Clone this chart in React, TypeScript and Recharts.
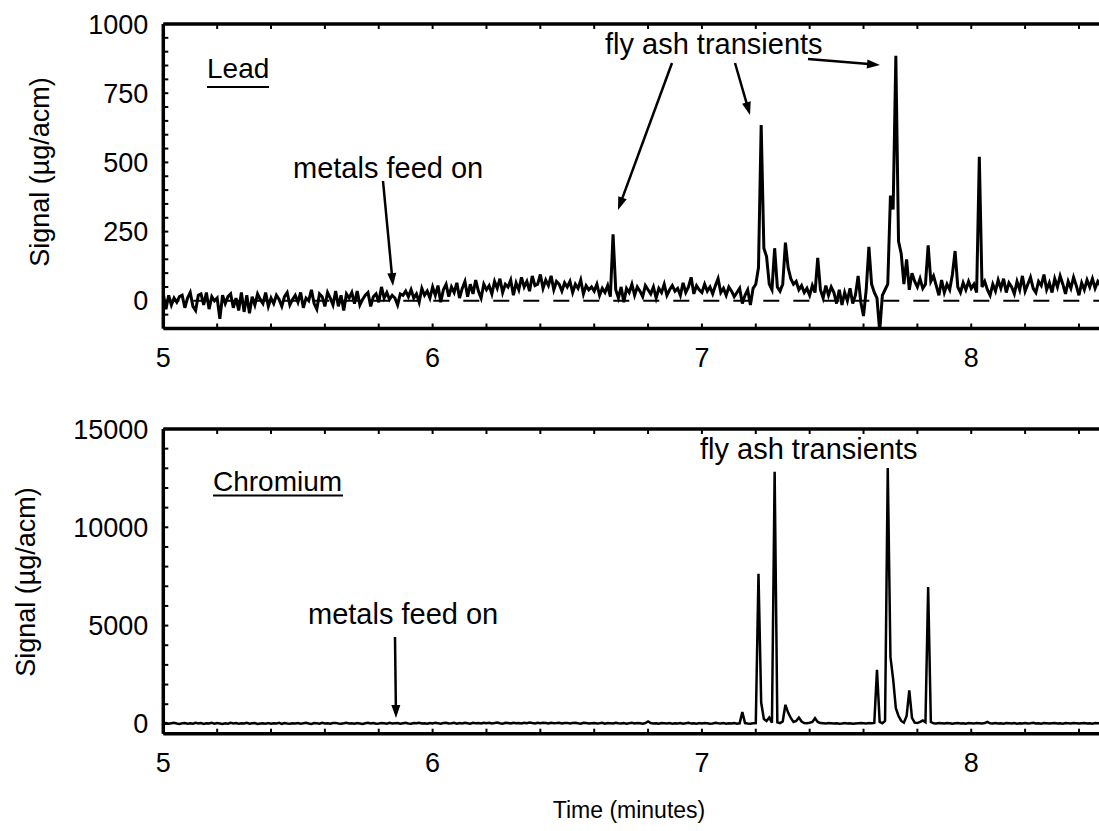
import React from "react";
import { LineChart, Line, XAxis, YAxis, ReferenceLine } from "recharts";

const FONT = '"Liberation Sans", Arial, Helvetica, sans-serif';

// both traces: one reading every 0.01 min, starting at 5.00 min
const SAMPLE_START = 5;
const SAMPLE_STEP = 0.01;

// Lead signal (µg/acm), rows of 0.1 min
const leadSignal = [
  25, -30, 20, -15, 10, -5, 15, 20, -25, 10,
  30, -20, -35, 20, 25, -15, 30, -30, 15, 0,
  10, -65, 20, -10, 15, 25, -25, 10, -35, 30,
  -40, 20, -45, 15, -15, 25, 5, -10, 30, -20,
  10, -10, 20, 5, -20, 15, 30, -15, 5, 20,
  -5, 30, -25, 10, 0, 40, -10, -30, 25, 15,
  -20, 30, 10, -15, 35, -20, 20, -35, 25, 10,
  30, -10, 35, -15, 5, 20, 30, -20, 15, 25,
  -5, 50, 10, 30, 5, 20, 10, -15, 25, 20,
  35, 15, 40, 10, 25, -5, 45, 20, 35, 10,
  50, 20, 55, -5, 40, 60, 15, 50, 30, 65,
  10, 45, 70, 15, 60, 25, 75, 35, 10, 60,
  40, 55, 25, 70, 45, 80, 30, 60, 50, 75,
  20, 65, 40, 85, 50, 70, 35, 90, 55, 60,
  95, 45, 75, 55, 90, 40, 70, 60, 35, 65,
  50, 70, 30, 60, 45, 75, 25, 55, 40, 50,
  35, 60, 20, 45, 30, 55, 15, 240, 40, 10,
  50, -5, 45, 30, 60, 20, 50, 35, 15, 55,
  40, 25, 50, 10, 45, 30, 60, 20, 40, 55,
  35, 45, 20, 65, 30, 50, 85, 25, 55, 40,
  30, 60, 35, 50, 25, 55, 80, 30, 45, 20,
  50, 35, 15, 30, 45, -10, 20, 40, -15, 45,
  60, 120, 635, 190, 160, 60, 40, 190, 50, 35,
  60, 210, 120, 80, 60, 70, 40, 55, 30, 45,
  20, 55, 30, 155, 40, 10, 55, 20, 50, 30,
  -10, 40, -15, 30, 0, 45, -10, 20, 90, -5,
  -55, 40, 195, 60, 30, 10, -110, 20, 40, 60,
  380, 330, 885, 215, 170, 60, 150, 40, 100, 70,
  50, 80, 45, 60, 200, 70, 90, 55, 20, 75,
  30, 60, 40, 95, 180, 50, 30, 65, 40, 70,
  45, 60, 30, 520, 50, 70, 40, 20, 60, 35,
  75, 45, 80, 30, 65, 50, 25, 70, 40, 90,
  35, 60, 85, 45, 30, 70, 55, 95, 40, 65,
  30, 80, 50, 90, 60, 25, 70, 45, 85, 55,
  20, 65, 40, 75, 50, 80, 45, 70, 55, 65,
  60,
];

// Chromium signal (µg/acm), rows of 0.1 min
const chromiumSignal = [
  20, 40, 10, 30, 50, 20, 0, 30, 40, 10,
  30, 10, 50, 20, 40, 0, 30, 20, 50, 10,
  40, 20, 0, 30, 10, 50, 20, 40, 10, 30,
  20, 50, 10, 30, 40, 0, 20, 30, 10, 40,
  10, 30, 20, 50, 0, 40, 20, 10, 30, 20,
  40, 10, 30, 60, 20, 0, 40, 30, 10, 50,
  20, 30, 10, 40, 50, 20, 10, 30, 60, 20,
  30, 10, 40, 20, 0, 30, 50, 20, 40, 10,
  20, 40, 30, 10, 50, 20, 30, 40, 10, 30,
  50, 20, 10, 40, 30, 60, 20, 30, 10, 40,
  20, 50, 30, 10, 40, 60, 20, 30, 50, 10,
  40, 20, 60, 30, 10, 50, 30, 40, 20, 60,
  30, 50, 20, 40, 70, 30, 10, 50, 40, 20,
  60, 30, 40, 20, 50, 30, 70, 40, 20, 50,
  30, 60, 40, 20, 50, 30, 40, 60, 20, 40,
  50, 20, 40, 60, 30, 10, 50, 40, 20, 30,
  40, 20, 30, 50, 10, 40, 30, 20, 50, 30,
  20, 40, 10, 30, 50, 20, 40, 30, 10, 40,
  120, 40, 20, 30, 10, 40, 30, 20, 40, 10,
  30, 20, 40, 10, 30, 50, 20, 30, 10, 40,
  20, 40, 30, 10, 20, 50, 30, 20, 40, 10,
  30, 20, 40, 10, 30, 600, 40, 20, 10, 30,
  40, 7640, 1085, 250, 150, 320, 60, 12820, 80, 40,
  120, 970, 575, 300, 100, 150, 320, 120, 40, 30,
  60, 100, 290, 100, 40, 30, 20, 40, 30, 20,
  30, 10, 20, 40, 20, 30, 10, 20, 30, 40,
  30, 20, 40, 30, 50, 2750, 100, 30, 150, 13020,
  3400, 2280, 800, 400, 150, 60, 400, 1700, 300, 60,
  40, 100, 170, 80, 6960, 100, 30, 20, 40, 30,
  20, 40, 30, 10, 30, 40, 20, 30, 10, 40,
  30, 20, 40, 30, 20, 40, 100, 30, 20, 40,
  20, 30, 10, 40, 30, 20, 40, 10, 30, 20,
  40, 20, 30, 50, 20, 30, 10, 40, 30, 20,
  30, 40, 20, 30, 10, 40, 30, 20, 40, 30,
  20, 30, 40, 20, 30, 10, 40, 30, 20, 30,
  30,
];

const timeDomain = [5, 8.5];
const timeTicks = [5, 5.2, 5.4, 5.6, 5.8, 6, 6.2, 6.4, 6.6, 6.8, 7, 7.2, 7.4, 7.6, 7.8, 8, 8.2, 8.4];

const leadDomain = [-100, 1000];
const leadTicks = [-50, 0, 50, 100, 150, 200, 250, 300, 350, 400, 450, 500, 550, 600, 650, 700, 750, 800, 850, 900, 950, 1000];
const leadLabelStep = 250;

const chromiumDomain = [-500, 15000];
const chromiumTicks = [0, 1000, 2000, 3000, 4000, 5000, 6000, 7000, 8000, 9000, 10000, 11000, 12000, 13000, 14000, 15000];
const chromiumLabelStep = 5000;

const toRows = (values: number[]) =>
  values.map((v, i) => ({ t: +(SAMPLE_START + i * SAMPLE_STEP).toFixed(2), v }));

const leadData = toRows(leadSignal);
const chromiumData = toRows(chromiumSignal);

const axisLine = { stroke: "#000", strokeWidth: 3.5 };
const tickLine = { stroke: "#000", strokeWidth: 2 };
const tickText = { fill: "#000", fontSize: 27, fontFamily: FONT };

const CHART_W = 1110;
const CHART_H = 400;
const PLOT_LEFT = 163.3;
const PLOT_RIGHT = 1105.9;

type PanelProps = {
  data: { t: number; v: number }[];
  top: number;
  plotTop: number;
  plotBottom: number;
  yDomain: number[];
  yTicks: number[];
  labelStep: number;
  lineWidth: number;
  zeroLine?: boolean;
};

// axes get 1px of room (an axis with 0 size is not drawn), margins make up for it
function Panel({ data, top, plotTop, plotBottom, yDomain, yTicks, labelStep, lineWidth, zeroLine }: PanelProps) {
  const margin = {
    top: plotTop - 1,
    bottom: CHART_H - plotBottom - 1,
    left: PLOT_LEFT - 1,
    right: CHART_W - PLOT_RIGHT,
  };
  return (
    <div style={{ position: "absolute", left: 0, top }}>
      <LineChart width={CHART_W} height={CHART_H} data={data} margin={margin}>
        <XAxis
          dataKey="t"
          type="number"
          domain={timeDomain}
          ticks={timeTicks}
          interval={0}
          allowDataOverflow
          height={1}
          tickSize={-5}
          tickMargin={24}
          axisLine={axisLine}
          tickLine={tickLine}
          tick={tickText}
          tickFormatter={(v: number) => (Number.isInteger(v) ? String(v) : "")}
        />
        <XAxis
          xAxisId="top"
          orientation="top"
          dataKey="t"
          type="number"
          domain={timeDomain}
          ticks={timeTicks}
          interval={0}
          allowDataOverflow
          height={1}
          tickSize={-5}
          axisLine={axisLine}
          tickLine={tickLine}
          tickFormatter={() => ""}
        />
        <YAxis
          type="number"
          domain={yDomain}
          ticks={yTicks}
          interval={0}
          allowDataOverflow
          width={1}
          tickSize={-5}
          tickMargin={20}
          axisLine={axisLine}
          tickLine={tickLine}
          tick={tickText}
          tickFormatter={(v: number) => (v >= 0 && v % labelStep === 0 ? String(v) : "")}
        />
        {zeroLine && <ReferenceLine y={0} stroke="#000" strokeWidth={2} strokeDasharray="16 14" />}
        <Line
          dataKey="v"
          type="linear"
          stroke="#000"
          strokeWidth={lineWidth}
          dot={false}
          activeDot={false}
          isAnimationActive={false}
        />
      </LineChart>
    </div>
  );
}

function Arrow({ x1, y1, x2, y2 }: { x1: number; y1: number; x2: number; y2: number }) {
  const dx = x2 - x1;
  const dy = y2 - y1;
  const len = Math.hypot(dx, dy);
  const ux = dx / len;
  const uy = dy / len;
  const head = 13;
  const half = 4.5;
  const bx = x2 - ux * head;
  const by = y2 - uy * head;
  return (
    <g>
      <line x1={x1} y1={y1} x2={bx + ux * 2} y2={by + uy * 2} stroke="#000" strokeWidth={2.5} />
      <polygon
        points={`${x2},${y2} ${bx - uy * half},${by + ux * half} ${bx + uy * half},${by - ux * half}`}
        fill="#000"
      />
    </g>
  );
}

function Annotations() {
  const big = { fontFamily: FONT, fontSize: 29, fill: "#000" };
  const name = { fontFamily: FONT, fontSize: 28, fill: "#000" };
  return (
    <svg
      width={1099}
      height={831}
      style={{ position: "absolute", left: 0, top: 0, pointerEvents: "none" }}
    >
      {/* top panel */}
      <text x={207} y={78} {...name}>Lead</text>
      <line x1={207} y1={87} x2={269} y2={87} stroke="#000" strokeWidth={2} />
      <text x={293} y={178} {...big}>metals feed on</text>
      <Arrow x1={383} y1={181} x2={393} y2={286} />
      <text x={605} y={54} {...big}>fly ash transients</text>
      <Arrow x1={672} y1={63} x2={618} y2={210} />
      <Arrow x1={735} y1={63} x2={750} y2={115} />
      <Arrow x1={808} y1={59} x2={880} y2={65} />
      <text transform="translate(40,172) rotate(-90)" textAnchor="middle" dominantBaseline="central"
        fontFamily={FONT} fontSize={27} fill="#000">Signal (µg/acm)</text>

      {/* bottom panel */}
      <text x={213} y={491} {...name}>Chromium</text>
      <line x1={213} y1={495.5} x2={343} y2={495.5} stroke="#000" strokeWidth={2} />
      <text x={308} y={624} {...big}>metals feed on</text>
      <Arrow x1={395} y1={637} x2={396} y2={718} />
      <text x={700} y={459} {...big}>fly ash transients</text>
      <text transform="translate(26,582) rotate(-90)" textAnchor="middle" dominantBaseline="central"
        fontFamily={FONT} fontSize={27} fill="#000">Signal (µg/acm)</text>

      <text x={629} y={818} textAnchor="middle" fontFamily={FONT} fontSize={23} fill="#000">
        Time (minutes)
      </text>
    </svg>
  );
}

export default function App() {
  return (
    <div
      style={{
        position: "absolute",
        left: 0,
        top: 0,
        width: 1099,
        height: 831,
        overflow: "hidden",
        background: "#fff",
      }}
    >
      <Panel
        data={leadData}
        top={0}
        plotTop={24}
        plotBottom={328.5}
        yDomain={leadDomain}
        yTicks={leadTicks}
        labelStep={leadLabelStep}
        lineWidth={3}
        zeroLine
      />
      <Panel
        data={chromiumData}
        top={400}
        plotTop={29}
        plotBottom={333.7}
        yDomain={chromiumDomain}
        yTicks={chromiumTicks}
        labelStep={chromiumLabelStep}
        lineWidth={2.5}
      />
      <Annotations />
    </div>
  );
}
